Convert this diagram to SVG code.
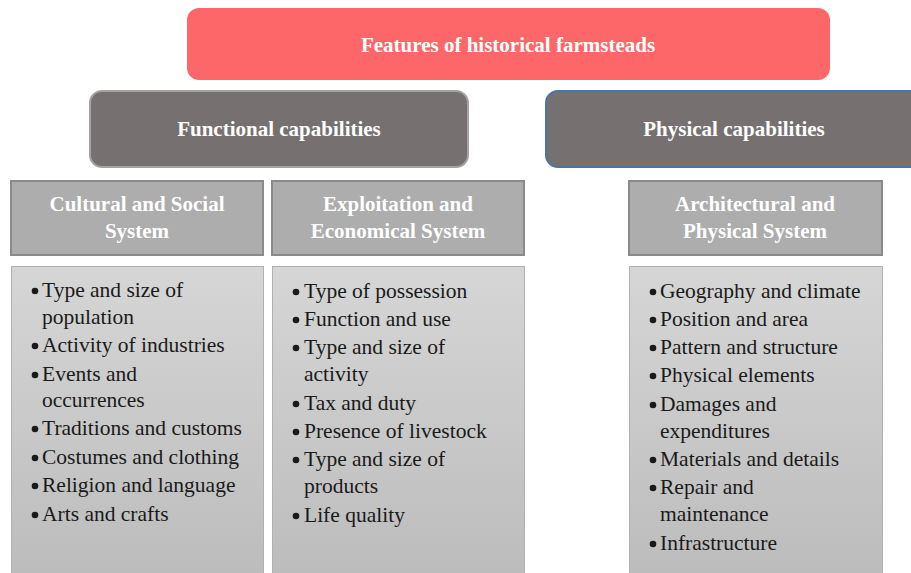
<svg xmlns="http://www.w3.org/2000/svg" width="911" height="573" viewBox="0 0 911 573">
<defs>
<linearGradient id="lg" x1="0" y1="0" x2="0" y2="1">
<stop offset="0" stop-color="#d6d6d6"/>
<stop offset="1" stop-color="#bcbcbc"/>
</linearGradient>
</defs>
<style>
.h{font-family:"Liberation Serif","Times New Roman",serif;font-weight:bold;font-size:21px;fill:#ffffff;text-anchor:middle}
.sys{fill:#adadad;stroke:#8a8a8a;stroke-width:2}
.cap{fill:#767170;stroke-width:2}
.list{fill:url(#lg);stroke:#b0b0b0;stroke-width:1}
.t{font-family:"Liberation Serif","Times New Roman",serif;font-size:21.5px;fill:#1a1a1a}
.b{fill:#1a1a1a}
</style>
<rect width="911" height="573" fill="#ffffff"/>
<g id="connectors"></g>
<g id="root">
<rect x="187" y="8" width="643" height="72" rx="12" fill="#fd6769"/>
<text class="h" x="508" y="52">Features of historical farmsteads</text>
</g>
<g id="functional">
<rect class="cap" x="90" y="91" width="378" height="76" rx="12" stroke="#a3a3a3"/>
<text class="h" x="279" y="136">Functional capabilities</text>
</g>
<g id="physical">
<rect class="cap" x="546" y="91" width="380" height="76" rx="12" stroke="#4a74a6"/>
<text class="h" x="734" y="136">Physical capabilities</text>
</g>
<g id="cultural">
<rect class="sys" x="11" y="181" width="252" height="74"/>
<text class="h" x="137" y="211">Cultural and Social</text>
<text class="h" x="137" y="238">System</text>
</g>
<g id="exploitation">
<rect class="sys" x="272" y="181" width="252" height="74"/>
<text class="h" x="398" y="211">Exploitation and</text>
<text class="h" x="398" y="238">Economical System</text>
</g>
<g id="architectural">
<rect class="sys" x="629" y="181" width="253" height="74"/>
<text class="h" x="755" y="211">Architectural and</text>
<text class="h" x="755" y="238">Physical System</text>
</g>
<g id="cultural-list">
<rect class="list" x="11.5" y="266.5" width="252" height="310"/>
<circle class="b" cx="35" cy="291" r="3.3"/>
<text class="t" x="42" y="297">Type and size of</text>
<text class="t" x="42" y="324">population</text>
<circle class="b" cx="35" cy="346" r="3.3"/>
<text class="t" x="42" y="352">Activity of industries</text>
<circle class="b" cx="35" cy="375" r="3.3"/>
<text class="t" x="42" y="381">Events and</text>
<text class="t" x="42" y="407">occurrences</text>
<circle class="b" cx="35" cy="429" r="3.3"/>
<text class="t" x="42" y="435">Traditions and customs</text>
<circle class="b" cx="35" cy="458" r="3.3"/>
<text class="t" x="42" y="464">Costumes and clothing</text>
<circle class="b" cx="35" cy="486" r="3.3"/>
<text class="t" x="42" y="492">Religion and language</text>
<circle class="b" cx="35" cy="515" r="3.3"/>
<text class="t" x="42" y="521">Arts and crafts</text>
</g>
<g id="exploitation-list">
<rect class="list" x="272.5" y="266.5" width="252" height="310"/>
<circle class="b" cx="296" cy="292" r="3.3"/>
<text class="t" x="304" y="298">Type of possession</text>
<circle class="b" cx="296" cy="320" r="3.3"/>
<text class="t" x="304" y="326">Function and use</text>
<circle class="b" cx="296" cy="348" r="3.3"/>
<text class="t" x="304" y="354">Type and size of</text>
<text class="t" x="304" y="381">activity</text>
<circle class="b" cx="296" cy="404" r="3.3"/>
<text class="t" x="304" y="410">Tax and duty</text>
<circle class="b" cx="296" cy="432" r="3.3"/>
<text class="t" x="304" y="438">Presence of livestock</text>
<circle class="b" cx="296" cy="460" r="3.3"/>
<text class="t" x="304" y="466">Type and size of</text>
<text class="t" x="304" y="493">products</text>
<circle class="b" cx="296" cy="516" r="3.3"/>
<text class="t" x="304" y="522">Life quality</text>
</g>
<g id="architectural-list">
<rect class="list" x="629.5" y="266.5" width="253" height="310"/>
<circle class="b" cx="653" cy="292" r="3.3"/>
<text class="t" x="660" y="298">Geography and climate</text>
<circle class="b" cx="653" cy="320" r="3.3"/>
<text class="t" x="660" y="326">Position and area</text>
<circle class="b" cx="653" cy="348" r="3.3"/>
<text class="t" x="660" y="354">Pattern and structure</text>
<circle class="b" cx="653" cy="376" r="3.3"/>
<text class="t" x="660" y="382">Physical elements</text>
<circle class="b" cx="653" cy="405" r="3.3"/>
<text class="t" x="660" y="411">Damages and</text>
<text class="t" x="660" y="438">expenditures</text>
<circle class="b" cx="653" cy="460" r="3.3"/>
<text class="t" x="660" y="466">Materials and details</text>
<circle class="b" cx="653" cy="488" r="3.3"/>
<text class="t" x="660" y="494">Repair and</text>
<text class="t" x="660" y="521">maintenance</text>
<circle class="b" cx="653" cy="544" r="3.3"/>
<text class="t" x="660" y="550">Infrastructure</text>
</g>
</svg>
